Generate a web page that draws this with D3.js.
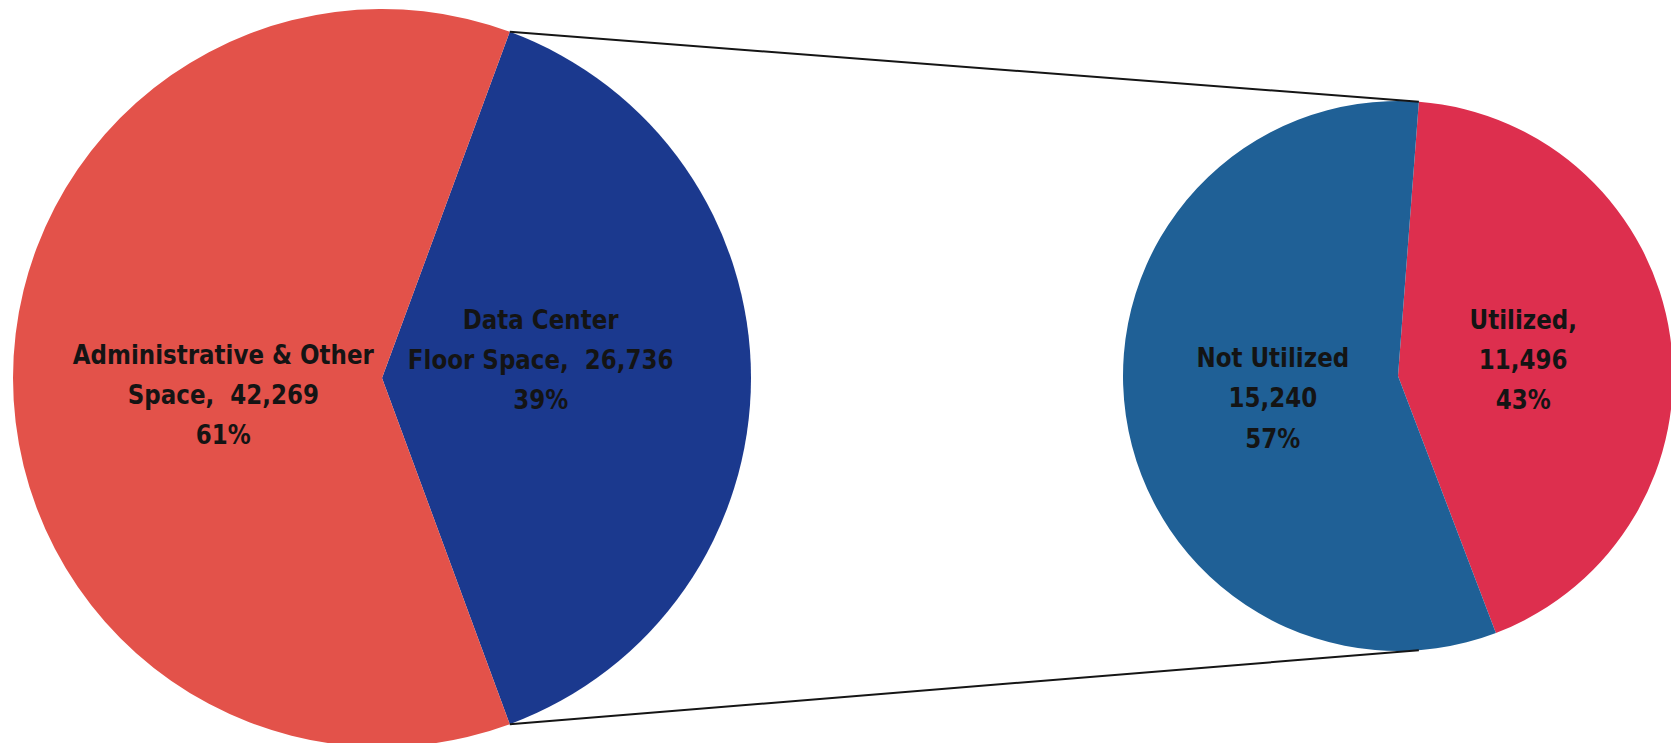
<!DOCTYPE html>
<html>
<head>
<meta charset="utf-8">
<script src="https://cdn.jsdelivr.net/npm/d3@7"></script>
<style>
	body { margin: 0; background: #fff; }
	.label { font-family: 'DejaVu Sans', Verdana, sans-serif; font-weight: bold; font-size: 23px; fill: #141414; white-space: pre; }
</style>
</head>
<body>
<div id="viz"></div>
<script>
// data
var leftCategories = ['Data Center\nFloor Space,  {v}', 'Administrative & Other\nSpace,  {v}'];
var leftValues = [26736, 42269];
var leftColors = ['#1b398e', '#e3524a'];

var rightCategories = ['Utilized,\n{v}', 'Not Utilized\n{v}'];
var rightValues = [11496, 15240];
var rightColors = ['#dd2f4e', '#1f6096'];

// layout
var w = 1671,
	h = 743;
var left = { cx: 382, cy: 378, r: 369, labelR: 0.43, nudge: [-17, 18] },
	right = { cx: 1398, cy: 376, r: 275, labelR: 0.46, nudge: [3, 5] };
var full_circle = 2 * Math.PI;
var line_height = 34,
	text_stretch = 1.18;

var fmt = d3.format(','),
	pct = d3.format('.0%');

var svg = d3.select('#viz').append('svg')
	.attr('width', w)
	.attr('height', h)
	.attr('viewBox', '0 0 ' + w + ' ' + h);

// first pie: the data center slice sits centred on the right side
var leftTotal = d3.sum(leftValues);
var dcAngle = full_circle * leftValues[0] / leftTotal;
var leftStart = Math.PI / 2 - dcAngle / 2;

// second pie starts just right of 12 o'clock
var rightStart = 4.35 * Math.PI / 180;

function point(p, a, r) {
	return [p.cx + Math.sin(a) * r, p.cy - Math.cos(a) * r];
}

function drawPie(p, values, cats, colors, start) {
	var total = d3.sum(values);
	var pie = d3.pie().sort(null).startAngle(start).endAngle(start + full_circle);
	var arcs = pie(values);
	var arc = d3.arc().innerRadius(0).outerRadius(p.r);
	var labelArc = d3.arc().innerRadius(p.r * p.labelR).outerRadius(p.r * p.labelR);

	var g = svg.append('g')
		.attr('transform', 'translate(' + p.cx + ',' + p.cy + ')');

	g.selectAll('.slice')
		.data(arcs)
		.enter().append('path')
			.attr('class', 'slice')
			.attr('d', arc)
			.attr('fill', function(d, i){ return colors[i]; });

	var labels = g.selectAll('.label')
		.data(arcs)
		.enter().append('text')
			.attr('class', 'label')
			.attr('text-anchor', 'middle')
			.attr('transform', function(d, i){
				var c = labelArc.centroid(d);
				return 'translate(' + c[0] + ',' + (c[1] + p.nudge[i]) + ') scale(1,' + text_stretch + ')';
			});

	labels.each(function(d, i){
		var lines = (cats[i].replace('{v}', fmt(d.value)) + '\n' + pct(d.value / total)).split('\n');
		var t = d3.select(this);
		lines.forEach(function(s, j){
			t.append('tspan')
				.attr('x', 0)
				.attr('y', (j - (lines.length - 1) / 2) * line_height + 7)
				.text(s);
		});
	});

	return arcs;
}

var leftArcs = drawPie(left, leftValues, leftCategories, leftColors, leftStart);
var rightArcs = drawPie(right, rightValues, rightCategories, rightColors, rightStart);

// connector lines from the data center slice to the second pie
var dc = leftArcs[0];
var connectors = [
	[point(left, dc.startAngle, left.r), point(right, rightArcs[0].startAngle, right.r)],
	[point(left, dc.endAngle, left.r), point(right, Math.PI - rightArcs[0].startAngle, right.r)]
];

svg.selectAll('.connector')
	.data(connectors)
	.enter().append('line')
		.attr('class', 'connector')
		.attr('x1', function(d){ return d[0][0]; })
		.attr('y1', function(d){ return d[0][1]; })
		.attr('x2', function(d){ return d[1][0]; })
		.attr('y2', function(d){ return d[1][1]; })
		.attr('stroke', '#151515')
		.attr('stroke-width', 2);
</script>
</body>
</html>
